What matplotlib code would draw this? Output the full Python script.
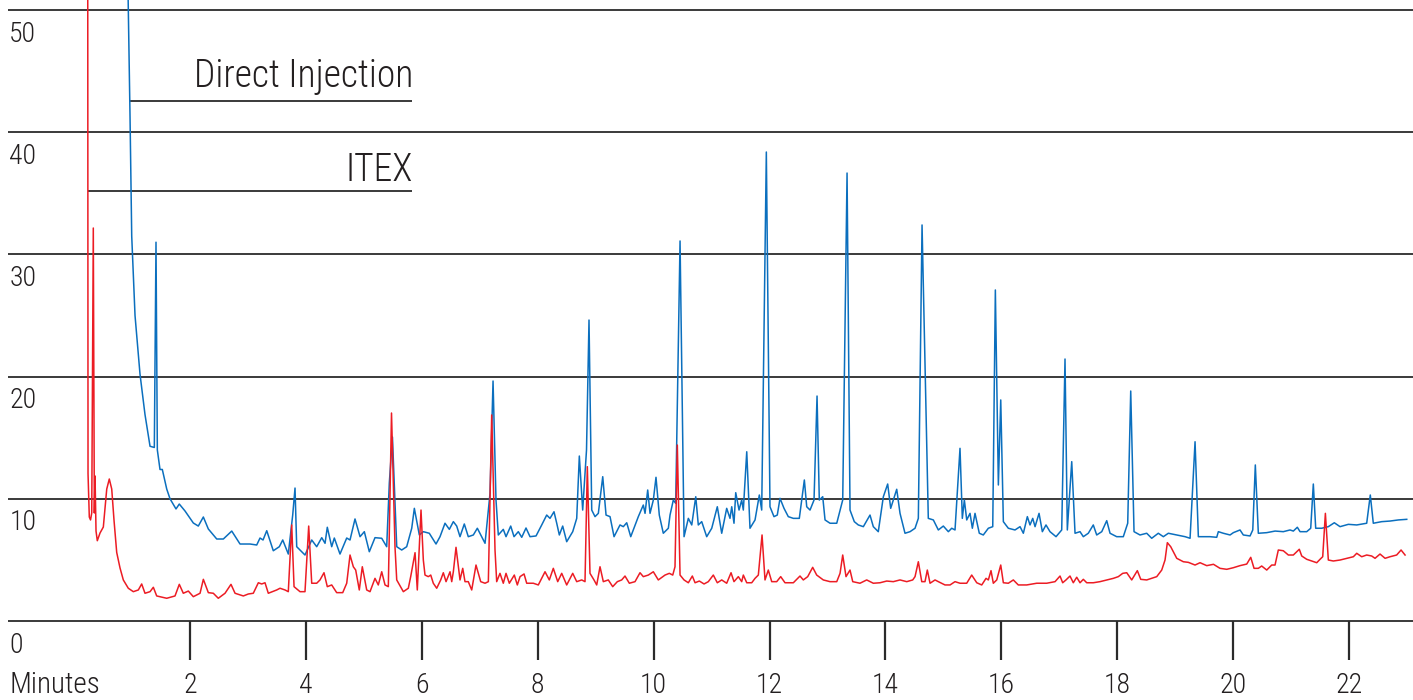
import matplotlib
matplotlib.use("Agg")
import matplotlib.pyplot as plt
from matplotlib import font_manager


# retention time (minutes) and detector signal
direct_t = [
    0.915, 0.935, 0.965, 0.994, 1.051, 1.137, 1.223, 1.310, 1.384, 1.413, 1.436, 1.482, 1.522,
    1.598, 1.655, 1.758, 1.815, 1.914, 2.057, 2.143, 2.230, 2.316, 2.461, 2.575, 2.720, 2.863,
    3.035, 3.151, 3.208, 3.260, 3.324, 3.437, 3.541, 3.600, 3.696, 3.772, 3.812, 3.841, 3.984,
    4.100, 4.186, 4.273, 4.330, 4.369, 4.445, 4.490, 4.588, 4.704, 4.761, 4.847, 4.934, 5.008,
    5.094, 5.192, 5.308, 5.394, 5.439, 5.493, 5.567, 5.653, 5.739, 5.826, 5.871, 5.957, 6.026,
    6.129, 6.245, 6.314, 6.400, 6.475, 6.544, 6.602, 6.659, 6.733, 6.802, 6.889, 6.958, 7.091,
    7.177, 7.229, 7.280, 7.320, 7.406, 7.453, 7.534, 7.591, 7.665, 7.724, 7.798, 7.867, 7.971,
    8.069, 8.155, 8.212, 8.281, 8.328, 8.373, 8.431, 8.500, 8.604, 8.673, 8.718, 8.776, 8.842,
    8.885, 8.932, 8.989, 9.046, 9.122, 9.179, 9.248, 9.317, 9.420, 9.477, 9.536, 9.605, 9.736,
    9.822, 9.852, 9.898, 9.938, 9.995, 10.041, 10.098, 10.167, 10.254, 10.283, 10.340, 10.381,
    10.456, 10.525, 10.599, 10.658, 10.727, 10.771, 10.830, 10.916, 11.003, 11.099, 11.175,
    11.261, 11.318, 11.348, 11.387, 11.417, 11.474, 11.520, 11.548, 11.607, 11.663, 11.750,
    11.824, 11.865, 11.945, 12.008, 12.077, 12.134, 12.181, 12.250, 12.324, 12.411, 12.514,
    12.601, 12.642, 12.699, 12.768, 12.820, 12.859, 12.918, 12.958, 13.044, 13.160, 13.263,
    13.338, 13.389, 13.463, 13.532, 13.619, 13.734, 13.791, 13.877, 13.964, 14.039, 14.091,
    14.136, 14.195, 14.252, 14.338, 14.425, 14.511, 14.568, 14.632, 14.740, 14.827, 14.913,
    14.999, 15.086, 15.144, 15.201, 15.287, 15.327, 15.362, 15.403, 15.460, 15.500, 15.546,
    15.620, 15.689, 15.776, 15.852, 15.897, 15.949, 15.990, 16.035, 16.121, 16.236, 16.323,
    16.380, 16.449, 16.495, 16.542, 16.582, 16.651, 16.708, 16.771, 16.840, 16.944, 17.042,
    17.099, 17.139, 17.215, 17.272, 17.358, 17.415, 17.501, 17.587, 17.646, 17.733, 17.819,
    17.876, 17.991, 18.105, 18.181, 18.233, 18.290, 18.393, 18.509, 18.595, 18.709, 18.796,
    18.882, 19.027, 19.171, 19.257, 19.343, 19.400, 19.486, 19.601, 19.717, 19.745, 19.831,
    19.947, 20.004, 20.119, 20.176, 20.292, 20.339, 20.383, 20.435, 20.580, 20.724, 20.866,
    20.982, 21.039, 21.108, 21.155, 21.270, 21.339, 21.384, 21.425, 21.529, 21.643, 21.746,
    21.845, 21.988, 22.133, 22.305, 22.367, 22.419, 22.564, 22.708, 22.851, 22.996,
]
direct_y = [
    56.0, 50.1, 41.2, 31.5, 25.0, 20.2, 16.9, 14.3, 14.2, 31.0, 14.0, 12.4, 12.4,
    10.8, 10.0, 9.17, 9.57, 9.00, 8.02, 7.77, 8.51, 7.53, 6.71, 6.71, 7.36, 6.30,
    6.30, 6.22, 6.79, 6.63, 7.39, 5.75, 6.08, 6.63, 5.48, 8.67, 10.88, 6.08, 5.40,
    6.63, 6.08, 6.82, 6.36, 7.67, 6.08, 6.79, 5.48, 6.79, 6.63, 8.35, 6.90, 7.31,
    5.67, 6.82, 6.77, 6.08, 11.29, 15.06, 6.08, 5.81, 6.08, 7.59, 9.22, 7.04, 7.31,
    7.18, 6.30, 6.90, 8.00, 7.50, 8.13, 7.77, 6.90, 7.94, 6.90, 7.04, 7.59, 6.36,
    10.45, 19.64, 9.90, 7.04, 7.50, 6.90, 7.77, 6.90, 7.31, 6.85, 7.61, 6.90, 6.96,
    7.86, 8.67, 8.40, 8.94, 8.00, 7.04, 7.77, 6.49, 7.31, 8.40, 13.50, 9.08, 14.0,
    24.63, 9.08, 8.54, 8.81, 11.81, 8.67, 8.54, 6.90, 7.86, 7.72, 8.04, 6.90, 8.54,
    9.49, 8.81, 10.72, 8.81, 9.90, 11.76, 8.67, 7.18, 7.59, 8.67, 9.90, 9.63,
    31.10, 6.90, 8.40, 7.86, 10.17, 7.86, 8.13, 6.90, 7.59, 9.35, 7.18,
    9.22, 8.40, 9.35, 8.00, 10.50, 9.08, 9.90, 9.08, 13.85, 7.59, 8.27,
    10.31, 9.08, 38.38, 9.35, 8.54, 8.67, 10.04, 9.22, 8.54, 8.40, 8.40,
    11.54, 9.35, 9.08, 9.90, 18.41, 9.90, 10.17, 8.27, 8.00, 8.00, 9.90,
    36.66, 9.08, 8.13, 7.86, 7.72, 8.67, 7.72, 7.31, 10.17, 11.21, 9.22,
    9.90, 10.78, 8.81, 7.18, 7.31, 7.59, 8.40, 32.41, 8.40, 8.27, 7.45,
    7.77, 7.31, 7.59, 7.45, 14.13, 8.40, 9.90, 8.27, 8.81, 7.59, 8.81,
    7.18, 7.04, 7.59, 7.72, 27.09, 11.13, 18.09, 8.13, 7.59, 7.45, 7.72,
    7.18, 8.54, 7.86, 8.40, 7.72, 8.81, 7.31, 7.86, 7.31, 6.90, 7.45,
    21.44, 7.45, 13.04, 7.18, 7.31, 6.90, 7.18, 7.86, 7.04, 7.31, 8.21,
    7.18, 6.90, 6.90, 8.00, 18.82, 7.31, 7.04, 7.18, 6.77, 7.18, 6.90,
    7.18, 7.04, 6.90, 6.77, 14.67, 6.90, 6.90, 6.90, 6.85, 7.31, 7.18,
    7.04, 7.23, 7.45, 7.04, 6.96, 7.45, 12.77, 7.18, 7.23, 7.36, 7.31,
    7.45, 7.36, 7.67, 7.31, 7.31, 7.59, 11.21, 7.59, 7.59, 7.72, 8.04,
    7.72, 7.91, 7.86, 8.00, 10.31, 8.00, 8.13, 8.18, 8.27, 8.32,
]

itex_t = [
    0.235, 0.240, 0.262, 0.283, 0.304, 0.331, 0.349, 0.361, 0.378, 0.400, 0.447, 0.504, 0.563,
    0.607, 0.649, 0.689, 0.735, 0.792, 0.849, 0.935, 1.022, 1.108, 1.166, 1.223, 1.310, 1.367,
    1.425, 1.598, 1.741, 1.815, 1.884, 1.971, 2.057, 2.173, 2.230, 2.316, 2.402, 2.488, 2.604,
    2.707, 2.777, 2.920, 3.006, 3.092, 3.179, 3.237, 3.294, 3.351, 3.496, 3.553, 3.639, 3.696,
    3.755, 3.795, 3.898, 3.984, 4.048, 4.100, 4.186, 4.243, 4.312, 4.369, 4.445, 4.531, 4.635,
    4.704, 4.761, 4.818, 4.859, 4.921, 4.973, 5.049, 5.106, 5.192, 5.249, 5.308, 5.365, 5.422,
    5.477, 5.537, 5.567, 5.681, 5.767, 5.808, 5.883, 5.922, 5.986, 6.026, 6.055, 6.112, 6.154,
    6.198, 6.257, 6.326, 6.371, 6.418, 6.487, 6.516, 6.544, 6.590, 6.659, 6.706, 6.745, 6.802,
    6.861, 6.935, 7.016, 7.091, 7.148, 7.206, 7.263, 7.292, 7.349, 7.406, 7.453, 7.510, 7.596,
    7.648, 7.695, 7.764, 7.810, 7.924, 8.010, 8.126, 8.200, 8.269, 8.345, 8.414, 8.500, 8.604,
    8.673, 8.759, 8.816, 8.856, 8.902, 8.971, 9.018, 9.075, 9.132, 9.218, 9.294, 9.374, 9.449,
    9.506, 9.581, 9.679, 9.765, 9.822, 9.909, 9.995, 10.081, 10.197, 10.271, 10.330, 10.369,
    10.409, 10.456, 10.525, 10.599, 10.668, 10.715, 10.789, 10.870, 10.944, 11.030, 11.099,
    11.175, 11.261, 11.336, 11.387, 11.462, 11.520, 11.548, 11.607, 11.693, 11.750, 11.807,
    11.871, 11.922, 11.979, 12.038, 12.124, 12.193, 12.267, 12.411, 12.526, 12.583, 12.659,
    12.745, 12.814, 12.928, 13.044, 13.160, 13.217, 13.263, 13.320, 13.389, 13.436, 13.561,
    13.677, 13.791, 13.907, 14.022, 14.136, 14.252, 14.368, 14.471, 14.511, 14.568, 14.627,
    14.683, 14.723, 14.770, 14.856, 14.913, 15.028, 15.115, 15.201, 15.287, 15.403, 15.489,
    15.576, 15.662, 15.736, 15.776, 15.822, 15.862, 15.921, 15.990, 16.035, 16.121, 16.207,
    16.293, 16.438, 16.611, 16.783, 16.927, 17.013, 17.059, 17.116, 17.185, 17.242, 17.301,
    17.358, 17.415, 17.474, 17.587, 17.703, 17.819, 17.933, 18.019, 18.095, 18.164, 18.250,
    18.347, 18.406, 18.509, 18.595, 18.682, 18.768, 18.825, 18.865, 18.923, 19.027, 19.141,
    19.227, 19.343, 19.429, 19.545, 19.661, 19.774, 19.890, 20.003, 20.119, 20.235, 20.304,
    20.361, 20.435, 20.493, 20.580, 20.666, 20.723, 20.780, 20.866, 20.953, 21.039, 21.142,
    21.184, 21.270, 21.356, 21.443, 21.500, 21.546, 21.592, 21.643, 21.729, 21.845, 21.961,
    22.075, 22.133, 22.219, 22.305, 22.391, 22.449, 22.535, 22.622, 22.708, 22.822, 22.898,
    22.967,
]
itex_y = [
    54.0, 12.07, 8.51, 8.27, 8.84, 32.16, 8.84, 11.87, 7.36, 6.57, 7.20, 7.69, 10.80,
    11.62, 10.80, 8.21, 5.61, 4.34, 3.36, 2.68, 2.40, 2.54, 3.03, 2.27, 2.40, 2.76,
    2.05, 1.86, 2.05, 3.00, 2.27, 2.45, 1.99, 2.27, 3.41, 2.32, 2.27, 1.86, 2.27,
    3.00, 2.27, 2.05, 2.21, 2.27, 3.13, 3.03, 3.13, 2.27, 2.54, 2.68, 2.54, 2.40,
    7.86, 2.81, 2.40, 2.40, 7.77, 3.09, 3.09, 3.36, 3.95, 2.81, 2.95, 2.32, 2.32,
    3.09, 5.40, 4.44, 4.17, 2.54, 4.44, 2.54, 2.40, 3.49, 2.95, 4.03, 2.95, 2.81,
    17.02, 6.08, 3.36, 2.40, 2.68, 3.63, 5.59, 2.54, 9.08, 4.99, 3.76, 3.63, 3.76,
    3.09, 2.68, 3.36, 3.95, 3.22, 4.03, 3.22, 4.03, 6.03, 3.36, 4.31, 3.22, 3.22,
    2.54, 4.58, 3.22, 3.09, 3.22, 16.86, 5.81, 3.22, 3.90, 3.09, 3.90, 3.09, 3.76,
    2.95, 3.63, 3.85, 3.09, 3.09, 2.95, 4.03, 3.36, 4.31, 3.22, 3.90, 2.95, 3.90,
    3.22, 3.36, 3.22, 12.63, 3.90, 3.36, 2.95, 4.44, 3.22, 3.36, 2.81, 3.22, 3.36,
    3.68, 3.09, 3.22, 3.95, 3.63, 3.76, 4.03, 3.36, 3.76, 3.90, 3.76, 4.44,
    14.40, 3.76, 3.36, 3.13, 3.68, 3.13, 3.27, 3.03, 3.22, 3.76, 3.13,
    3.36, 3.09, 3.95, 3.22, 3.63, 3.22, 3.76, 3.13, 3.13, 3.49, 3.76,
    7.04, 3.36, 4.17, 3.22, 3.22, 3.63, 3.13, 3.13, 3.68, 3.36, 3.63,
    4.39, 3.76, 3.36, 3.22, 3.22, 3.90, 5.40, 3.63, 4.17, 3.22, 3.09,
    3.36, 3.09, 3.13, 3.27, 3.22, 3.36, 3.22, 3.36, 3.63, 4.85, 3.22,
    3.22, 4.17, 3.09, 3.36, 3.22, 2.95, 2.95, 3.22, 3.09, 3.09, 3.76,
    3.13, 2.95, 3.49, 3.36, 4.12, 3.09, 3.36, 4.58, 3.13, 3.09, 3.36,
    2.95, 2.95, 3.09, 3.09, 3.22, 3.68, 3.13, 3.36, 3.68, 3.13, 3.58,
    3.13, 3.41, 3.13, 3.13, 3.22, 3.36, 3.49, 3.63, 3.90, 3.95, 3.36,
    4.12, 3.41, 3.36, 3.49, 3.63, 4.17, 4.99, 6.41, 6.08, 5.13, 4.85,
    4.80, 4.58, 4.77, 4.53, 4.64, 4.31, 4.23, 4.36, 4.53, 4.66, 5.21,
    4.31, 4.31, 4.50, 4.17, 4.58, 4.58, 5.81, 5.75, 5.40, 5.40, 5.87,
    5.32, 5.05, 4.91, 4.77, 5.05, 5.26, 8.81, 4.99, 4.91, 4.99, 5.13,
    5.26, 5.54, 5.26, 5.40, 5.32, 5.13, 5.48, 5.13, 5.26, 5.40, 5.81,
    5.40,
]

y_ticks = [0, 10, 20, 30, 40, 50]
x_ticks = [2, 4, 6, 8, 10, 12, 14, 16, 18, 20, 22]

BLUE = "#0b6fbe"
RED = "#ec1c24"
INK = "#231f20"


def pick_family(candidates):
    installed = {f.name for f in font_manager.fontManager.ttflist}
    for name in candidates:
        if name in installed:
            return name
    return "DejaVu Sans"


family = pick_family(["Liberation Sans Narrow", "Roboto Condensed", "Open Sans Condensed",
                      "Liberation Sans", "DejaVu Sans"])
plt.rcParams["font.family"] = [family, "DejaVu Sans"]
plt.rcParams["font.weight"] = "light"

fig = plt.figure(figsize=(14.13, 7.0), dpi=100)
ax = fig.add_axes([0, 0, 1, 1])
ax.set_xlim(-1.279, 23.104)
ax.set_ylim(-6.465, 50.82)
ax.axis("off")

x_left = -1.14
x_right = 23.104

# horizontal rules and axis line
ax.hlines(y_ticks, x_left, x_right, color="#2b2b2b", linewidth=1.3, zorder=1)
ax.vlines(x_ticks, -3.19, 0, color="#2b2b2b", linewidth=1.6, zorder=1)

for v in y_ticks:
    ax.text(-1.12, v - 2.58, str(v), fontsize=20, color=INK, ha="left", va="baseline")
for t in x_ticks:
    ax.text(t, -5.89, str(t), fontsize=20, color=INK, ha="center", va="baseline")
ax.text(-1.12, -5.89, "Minutes", fontsize=21, color=INK, ha="left", va="baseline")

ax.plot(direct_t, direct_y, color=BLUE, linewidth=1.1, zorder=2)
ax.plot(itex_t, itex_y, color=RED, linewidth=1.1, zorder=3)

# series labels with leader lines
ax.text(5.85, 43.7, "Direct Injection", fontsize=27, color=INK, ha="right", va="baseline")
ax.hlines(42.55, direct_t[2], 5.83, color="#2b2b2b", linewidth=1.3, zorder=1)
ax.text(5.85, 36.0, "ITEX", fontsize=27, color=INK, ha="right", va="baseline")
ax.hlines(35.19, itex_t[0], 5.83, color="#2b2b2b", linewidth=1.3, zorder=1)

fig.savefig("out.png", dpi=100)
